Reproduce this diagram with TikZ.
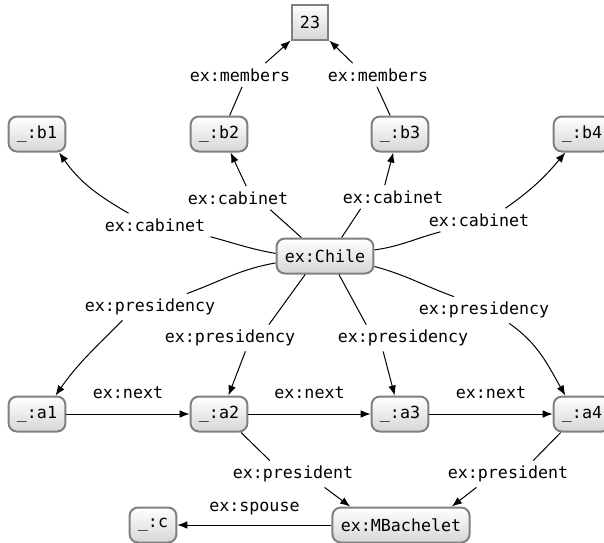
\documentclass[tikz,border=0pt]{standalone}
\usepackage{fontspec}
\setmonofont{DejaVu Sans Mono}
\usetikzlibrary{arrows.meta}
\tikzset{
  res/.style={draw=black!50, line width=1.2pt, rounded corners=5pt, top color=white, bottom color=black!16,
    minimum height=21pt, inner xsep=5pt, font=\ttfamily},
  lit/.style={res, rounded corners=0pt},
  lbl/.style={font=\ttfamily, inner sep=3pt},
  edge/.style={line width=0.6pt, -{Latex[length=6pt,width=4.6pt]}},
}

\begin{document}
\begin{tikzpicture}[x=0.6pt,y=0.6pt]
  \useasboundingbox (0,0) rectangle (604,-542);
  \clip (0,0) rectangle (604,-542);
  % resources
  \node[lit] (n23) at (310,-22) {23};
  \node[res] (b1) at (37,-134) {\_:b1};
  \node[res] (b2) at (219,-134) {\_:b2};
  \node[res] (b3) at (400,-134) {\_:b3};
  \node[res] (b4) at (582,-134) {\_:b4};
  \node[res] (chile) at (325,-256) {ex:Chile};
  \node[res] (a1) at (37,-414) {\_:a1};
  \node[res] (a2) at (219,-414) {\_:a2};
  \node[res] (a3) at (400,-414) {\_:a3};
  \node[res] (a4) at (582,-414) {\_:a4};
  \node[res] (c) at (153,-525) {\_:c};
  \node[res] (mb) at (401,-525) {ex:MBachelet};
  % edge labels
  \node[lbl] (mem1) at (240,-75) {ex:members};
  \node[lbl] (mem2) at (378,-75) {ex:members};
  \node[lbl] (cab1) at (155,-225) {ex:cabinet};
  \node[lbl] (cab2) at (238,-198) {ex:cabinet};
  \node[lbl] (cab3) at (393,-197) {ex:cabinet};
  \node[lbl] (cab4) at (479,-220) {ex:cabinet};
  \node[lbl] (pres1) at (150,-307) {ex:presidency};
  \node[lbl] (pres2) at (230,-338) {ex:presidency};
  \node[lbl] (pres3) at (403,-338) {ex:presidency};
  \node[lbl] (pres4) at (484,-310) {ex:presidency};
  \node[lbl] (prs1) at (293,-474) {ex:president};
  \node[lbl] (prs2) at (508,-474) {ex:president};
  % members
  \draw[edge] (b2.60) -- (mem1.-80) (mem1.25) -- (n23.south west);
  \draw[edge] (b3.118) -- (mem2.-95) (mem2.155) -- (n23.south east);
  % cabinet
  \draw[edge] (chile.177) to[out=170,in=-15] (cab1.south east)
              (cab1.156) to[out=150,in=-55] (b1.-40);
  \draw[edge] (chile.142) -- (cab2.-20) (cab2.55) -- (b2.-58);
  \draw[edge] (chile.48) -- (cab3.200) (cab3.125) -- (b3.-110);
  \draw[edge] (chile.7) to[out=8,in=195] (cab4.197)
              (cab4.24) to[out=35,in=230] (b4.228);
  % presidency
  \draw[edge] (chile.188) to[out=190,in=20] (pres1.20)
              (pres1.206) to[out=225,in=55] (a1.45);
  \draw[edge] (chile.223) -- (pres2.19) (pres2.-41) -- (a2.63);
  \draw[edge] (chile.307) -- (pres3.160) (pres3.214) -- (a3.106);
  \draw[edge] (chile.348) to[out=-15,in=160] (pres4.156)
              (pres4.-28) to[out=-35,in=120] (a4.132);
  % next
  \draw[edge] (a1) -- node[lbl, above=6pt] (nx1) {ex:next} (a2);
  \draw[edge] (a2) -- node[lbl, above=6pt] (nx2) {ex:next} (a3);
  \draw[edge] (a3) -- node[lbl, above=6pt] (nx3) {ex:next} (a4);
  % president, spouse
  \draw[edge] (a2.-40) -- (prs1.150) (prs1.-23) -- (mb.160);
  \draw[edge] (a4.221) -- (prs2.28) (prs2.203) -- (mb.20);
  \draw[edge] (mb) -- node[lbl, above=3pt] (sp) {ex:spouse} (c);
\end{tikzpicture}
\end{document}
